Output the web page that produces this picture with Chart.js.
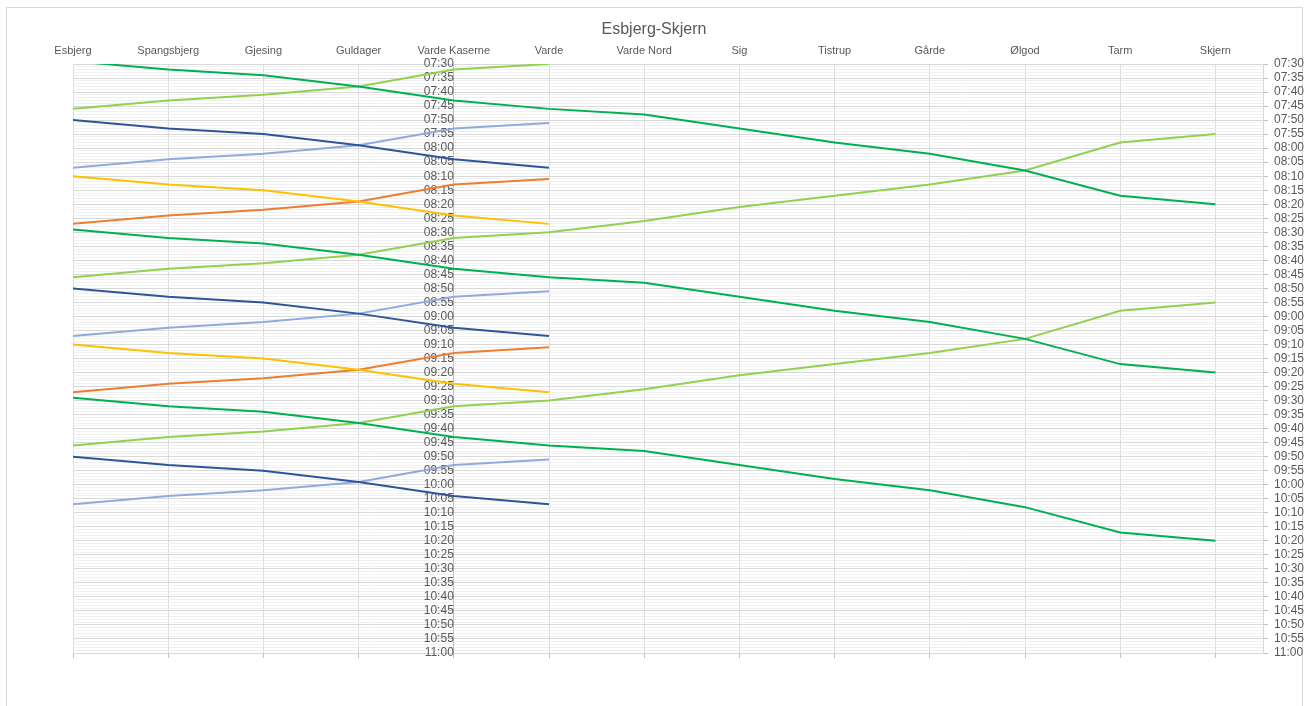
<!DOCTYPE html>
<html>
<head>
  <meta charset="utf-8">
  <title>Esbjerg-Skjern</title>
  <script src="https://cdn.jsdelivr.net/npm/chart.js"></script>
  <style>
    body { margin: 0; padding: 0; background: #fff; overflow: hidden; }
    #frame {
      position: absolute;
      left: 6px; top: 7px;
      width: 1295px; height: 720px;
      border: 1px solid #d9d9d9;
    }
    #chart { position: absolute; left: 0; top: 0; }
  </style>
</head>
<body>
  <div id="frame"></div>
  <canvas id="chart" width="1308" height="706"></canvas>

  <script>
    // stations along the line (x axis, shown on top)
    const stations = ['Esbjerg', 'Spangsbjerg', 'Gjesing', 'Guldager', 'Varde Kaserne', 'Varde',
      'Varde Nord', 'Sig', 'Tistrup', 'Gårde', 'Ølgod', 'Tarm', 'Skjern'];

    // time axis range and tick labels every 5 minutes
    const timeMin = '07:30';
    const timeMax = '11:00';

    // through trains Esbjerg -> Skjern (dark green)
    const sydTog1 = ['07:29', '07:32', '07:34', '07:38', '07:43', '07:46', '07:48', '07:53', '07:58', '08:02', '08:08', '08:17', '08:20'];
    const sydTog2 = ['08:29', '08:32', '08:34', '08:38', '08:43', '08:46', '08:48', '08:53', '08:58', '09:02', '09:08', '09:17', '09:20'];
    const sydTog3 = ['09:29', '09:32', '09:34', '09:38', '09:43', '09:46', '09:48', '09:53', '09:58', '10:02', '10:08', '10:17', '10:20'];

    // through trains Skjern -> Esbjerg (light green), listed in station order
    const nordTog1 = ['07:46', '07:43', '07:41', '07:38', '07:32', '07:30', null, null, null, null, null, null, null];
    const nordTog2 = ['08:46', '08:43', '08:41', '08:38', '08:32', '08:30', '08:26', '08:21', '08:17', '08:13', '08:08', '07:58', '07:55'];
    const nordTog3 = ['09:46', '09:43', '09:41', '09:38', '09:32', '09:30', '09:26', '09:21', '09:17', '09:13', '09:08', '08:58', '08:55'];

    // local trains Esbjerg -> Varde (dark blue)
    const lokalSyd1 = ['07:50', '07:53', '07:55', '07:59', '08:04', '08:07'];
    const lokalSyd2 = ['08:50', '08:53', '08:55', '08:59', '09:04', '09:07'];
    const lokalSyd3 = ['09:50', '09:53', '09:55', '09:59', '10:04', '10:07'];

    // local trains Varde -> Esbjerg (light blue)
    const lokalNord1 = ['08:07', '08:04', '08:02', '07:59', '07:53', '07:51'];
    const lokalNord2 = ['09:07', '09:04', '09:02', '08:59', '08:53', '08:51'];
    const lokalNord3 = ['10:07', '10:04', '10:02', '09:59', '09:53', '09:51'];

    // extra trains Esbjerg -> Varde (gold) and Varde -> Esbjerg (orange)
    const ekstraSyd1 = ['08:10', '08:13', '08:15', '08:19', '08:24', '08:27'];
    const ekstraSyd2 = ['09:10', '09:13', '09:15', '09:19', '09:24', '09:27'];
    const ekstraNord1 = ['08:27', '08:24', '08:22', '08:19', '08:13', '08:11'];
    const ekstraNord2 = ['09:27', '09:24', '09:22', '09:19', '09:13', '09:11'];

    const GREEN = '#00b050';
    const LIGHT_GREEN = '#92d050';
    const BLUE = '#2f5597';
    const LIGHT_BLUE = '#8faadc';
    const GOLD = '#ffc000';
    const ORANGE = '#ed7d31';

    function toMin(t) {
      const p = t.split(':');
      return parseInt(p[0], 10) * 60 + parseInt(p[1], 10);
    }
    function fmt(v) {
      const h = Math.floor(v / 60), m = v % 60;
      return String(h).padStart(2, '0') + ':' + String(m).padStart(2, '0');
    }

    function train(times, color) {
      return {
        data: times.map((t, i) => ({ x: i, y: t === null ? null : toMin(t) })),
        xAxisID: 'x',
        yAxisID: 'y',
        borderColor: color,
        backgroundColor: color,
        borderWidth: 2,
        pointRadius: 0,
        pointHoverRadius: 0,
        tension: 0,
        fill: false
      };
    }

    const datasets = [
      train(sydTog1, GREEN), train(sydTog2, GREEN), train(sydTog3, GREEN),
      train(nordTog1, LIGHT_GREEN), train(nordTog2, LIGHT_GREEN), train(nordTog3, LIGHT_GREEN),
      train(lokalSyd1, BLUE), train(lokalSyd2, BLUE), train(lokalSyd3, BLUE),
      train(lokalNord1, LIGHT_BLUE), train(lokalNord2, LIGHT_BLUE), train(lokalNord3, LIGHT_BLUE),
      train(ekstraSyd1, GOLD), train(ekstraSyd2, GOLD),
      train(ekstraNord1, ORANGE), train(ekstraNord2, ORANGE)
    ];

    const yMin = toMin(timeMin), yMax = toMin(timeMax);
    const isMajor = v => v % 5 === 0;
    const timeLabel = v => isMajor(v) ? fmt(v) : '';
    const textColor = '#595959';
    const fontFamily = '"Liberation Sans", Arial, sans-serif';

    new Chart(document.getElementById('chart'), {
      type: 'line',
      data: { datasets: datasets },
      options: {
        responsive: false,
        animation: false,
        events: [],
        layout: { padding: 0 },
        plugins: {
          legend: { display: false },
          tooltip: { enabled: false },
          title: {
            display: true,
            fullSize: true,
            text: 'Esbjerg-Skjern',
            color: textColor,
            font: { family: fontFamily, size: 16, weight: 'normal' },
            padding: { top: 20, bottom: 6 }
          }
        },
        scales: {
          x: {
            type: 'linear',
            position: 'top',
            min: 0,
            max: 12.5,
            afterFit: s => { s.height = 18.8; },
            ticks: {
              stepSize: 1,
              includeBounds: false,
              autoSkip: false,
              maxRotation: 0,
              padding: 6,
              color: textColor,
              font: { family: fontFamily, size: 11 },
              callback: v => stations[v] || ''
            },
            grid: { color: '#d9d9d9', drawTicks: false },
            border: { color: '#d9d9d9' }
          },
          x2: {
            type: 'linear',
            position: 'bottom',
            min: 0,
            max: 12.5,
            afterFit: s => { s.height = 53; },
            ticks: { stepSize: 1, includeBounds: false, autoSkip: false, callback: () => '' },
            grid: { drawOnChartArea: false, tickLength: 5, color: '#bfbfbf' },
            border: { color: '#d9d9d9' }
          },
          // empty left box that only reserves the margin left of the plot
          spacer: {
            type: 'linear',
            position: 'left',
            min: 0,
            max: 1,
            afterFit: s => { s.width = 73; },
            ticks: { display: false },
            grid: { display: false },
            border: { display: false }
          },
          y: {
            type: 'linear',
            position: 'right',
            reverse: true,
            min: yMin,
            max: yMax,
            afterFit: s => { s.width = 45; },
            ticks: {
              stepSize: 1,
              autoSkip: false,
              padding: 6,
              color: textColor,
              font: { family: fontFamily, size: 12 },
              callback: timeLabel
            },
            grid: {
              color: c => isMajor(c.tick.value) ? '#d9d9d9' : '#f0f0f0',
              tickColor: c => isMajor(c.tick.value) ? '#bfbfbf' : 'rgba(0,0,0,0)',
              tickLength: 5
            },
            border: { color: '#d9d9d9' }
          },
          yl: {
            type: 'linear',
            position: { x: 4 },
            reverse: true,
            min: yMin,
            max: yMax,
            ticks: {
              stepSize: 1,
              autoSkip: false,
              padding: 3,
              color: textColor,
              font: { family: fontFamily, size: 12 },
              callback: timeLabel
            },
            grid: {
              drawOnChartArea: false,
              tickColor: c => isMajor(c.tick.value) ? '#bfbfbf' : 'rgba(0,0,0,0)',
              tickLength: 4
            },
            border: { color: '#bfbfbf' }
          }
        }
      }
    });
  </script>
</body>
</html>
